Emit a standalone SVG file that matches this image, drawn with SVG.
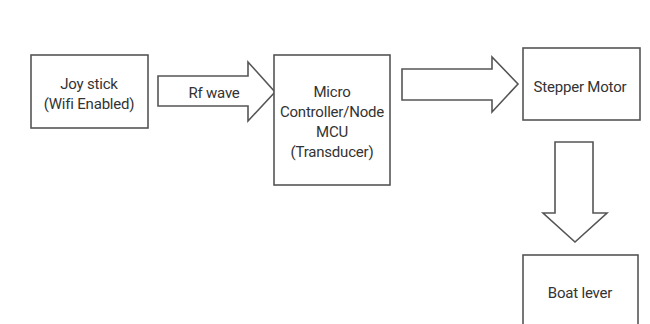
<svg xmlns="http://www.w3.org/2000/svg" width="650" height="324" viewBox="0 0 650 324">
<style>
.box{fill:#fff;stroke:#555;stroke-width:1.6}
.arr{fill:#fff;stroke:#555;stroke-width:1.6;stroke-linejoin:miter}
text{font-family:Roboto,"Liberation Sans",sans-serif;font-size:15px;fill:#333;text-anchor:middle;letter-spacing:-0.2px}
</style>
<rect width="650" height="324" fill="#fff"/>
<g id="connectors">
<path class="arr" d="M158,76 H248 V62 L275,92 L248,121 V106 H158 Z"/>
<path class="arr" d="M402,69 H492 V57 L518,84 L492,112 V100 H402 Z"/>
<path class="arr" d="M555,142 H593 V213 H607 L575,242 L543,213 H555 Z"/>
<text x="214" y="98">Rf wave</text>
</g>
<g id="joystick">
<rect class="box" x="31" y="55" width="117" height="73"/>
<text x="89" y="89">Joy stick</text>
<text x="89" y="109">(Wifi Enabled)</text>
</g>
<g id="mcu">
<rect class="box" x="274" y="55" width="116" height="130"/>
<text x="332" y="97">Micro</text>
<text x="332" y="117">Controller/Node</text>
<text x="332" y="137">MCU</text>
<text x="332" y="157">(Transducer)</text>
</g>
<g id="stepper">
<rect class="box" x="523" y="48" width="117" height="72"/>
<text x="580" y="92">Stepper Motor</text>
</g>
<g id="boat">
<rect class="box" x="523" y="255" width="115" height="80"/>
<text x="580" y="298">Boat lever</text>
</g>
</svg>
